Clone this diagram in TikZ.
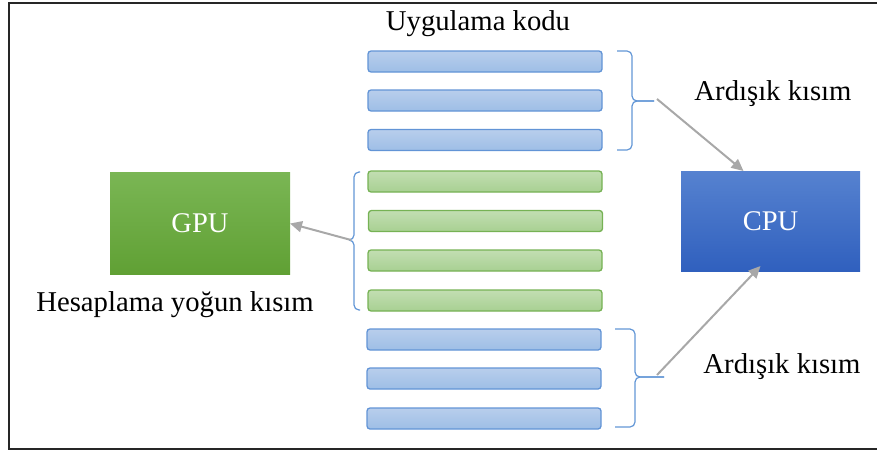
\documentclass[tikz,border=0pt]{standalone}
\usepackage{fontspec}
\setmainfont{Liberation Serif}
\usetikzlibrary{arrows.meta}

\definecolor{barblueA}{RGB}{184,206,236}
\definecolor{barblueB}{RGB}{158,190,230}
\definecolor{barblueline}{RGB}{98,148,214}
\definecolor{bargreenA}{RGB}{194,222,178}
\definecolor{bargreenB}{RGB}{168,208,146}
\definecolor{bargreenline}{RGB}{118,178,84}
\definecolor{gpuA}{RGB}{122,182,84}
\definecolor{gpuB}{RGB}{96,160,52}
\definecolor{cpuA}{RGB}{86,130,208}
\definecolor{cpuB}{RGB}{48,96,190}
\definecolor{bracecol}{RGB}{98,150,214}
\definecolor{arrowgray}{RGB}{168,168,168}

\tikzset{
  codebar/.style={rectangle, rounded corners=3pt, inner sep=0pt, outer sep=0pt,
    minimum width=234pt, minimum height=21pt, line width=1.3pt},
  bluebar/.style={codebar, draw=barblueline, top color=barblueA, bottom color=barblueB},
  greenbar/.style={codebar, draw=bargreenline, top color=bargreenA, bottom color=bargreenB},
  unitbox/.style={rectangle, inner sep=0pt, outer sep=0pt, text=white,
    font=\fontsize{28.5}{32}\selectfont},
  label/.style={inner sep=0pt, font=\fontsize{28.7}{32}\selectfont, text=black},
  bracepath/.style={draw=bracecol, line width=1.2pt, rounded corners=5pt},
  flow/.style={draw=arrowgray, line width=2pt, -{Triangle[length=12pt,width=11pt]}},
}

\begin{document}
\begin{tikzpicture}[x=1pt,y=-1pt]
  \useasboundingbox (0,0) rectangle (877,455);
  % outer frame, its right side runs past the page edge
  \draw[line width=2.2pt, draw=black!85] (890,3) -- (9,3) -- (9,449) -- (890,449);

  % application code lines
  \node[label, anchor=base] (title) at (478,30) {Uygulama kodu};

  \node[bluebar] (s1) at (485,61.5) {};
  \node[bluebar] (s2) at (485,100.5) {};
  \node[bluebar] (s3) at (485,140) {};

  \node[greenbar] (p1) at (485,181.5) {};
  \node[greenbar] (p2) at (485.5,221) {};
  \node[greenbar] (p3) at (485,260.5) {};
  \node[greenbar] (p4) at (485,300.5) {};

  \node[bluebar] (q1) at (484,339.5) {};
  \node[bluebar] (q2) at (484,378.5) {};
  \node[bluebar] (q3) at (484,418.5) {};

  % processors
  \node[unitbox, minimum width=180pt, minimum height=102pt,
        top color=gpuA, bottom color=gpuB] (gpu) at (200,223.5) {GPU};
  \node[unitbox, minimum width=179pt, minimum height=100pt,
        top color=cpuA, bottom color=cpuB] (cpu) at (770.5,221) {CPU};

  % braces grouping the code lines
  \coordinate (b1) at (654,101);
  \path[bracepath] (617,51) -- (632,51) -- (632,101) -- (b1);
  \path[bracepath] (617,150) -- (632,150) -- (632,101) -- (b1);

  \coordinate (b2) at (349,240);
  \path[bracepath] (360,172) -- (354,172) -- (354,240) -- (b2);
  \path[bracepath] (360,310) -- (354,310) -- (354,240) -- (b2);

  \coordinate (b3) at (664,377);
  \path[bracepath] (615,329) -- (635,329) -- (635,377) -- (b3);
  \path[bracepath] (615,427) -- (635,427) -- (635,377) -- (b3);

  % where each part runs
  \coordinate (a1) at (657,99);
  \coordinate (a2) at (657,375);
  \coordinate (a3) at (351,240);
  \draw[flow] (a1) -- ([xshift=-27pt]cpu.north);
  \draw[flow] (a2) -- ([xshift=-10pt,yshift=5pt]cpu.south);
  \draw[flow] (a3) -- (gpu.east);

  \node[label, anchor=base] (seq1) at (773,100) {Ardışık kısım};
  \node[label, anchor=base] (seq2) at (782,373) {Ardışık kısım};
  \node[label, anchor=base] (par) at (175,311) {Hesaplama yoğun kısım};
\end{tikzpicture}
\end{document}
